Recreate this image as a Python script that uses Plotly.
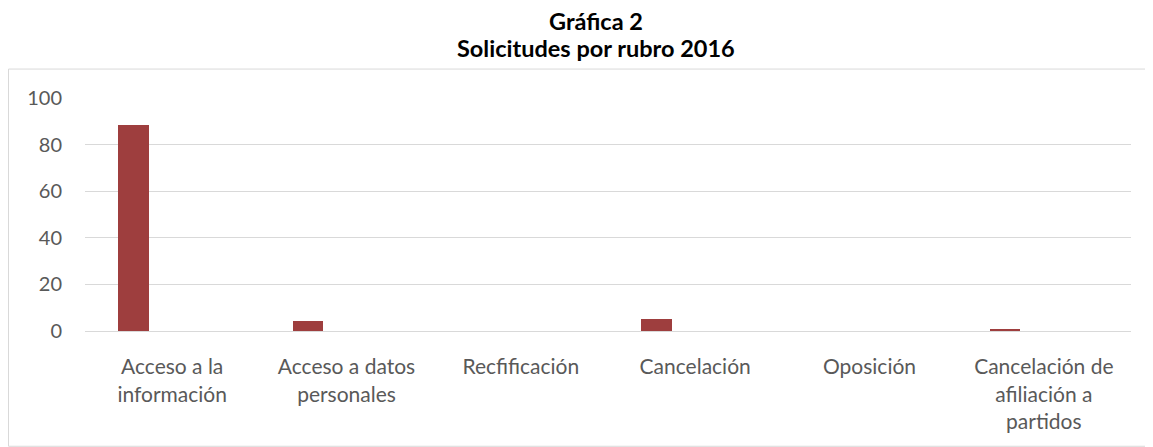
import plotly.graph_objects as go

categories = ["Acceso a la<br>información", "Acceso a datos<br>personales", "Recfificación",
              "Cancelación", "Oposición", "Cancelación de<br>afiliación a<br>partidos"]
values = [88.2, 4.4, 0, 5.0, 0, 0.7]
y_ticks = [0, 20, 40, 60, 80, 100]

# page is offset by 8px body margin; work in page coordinates and subtract
OFF = 8
W, H = 1153 - OFF, 447 - OFF
L, R, T, B = 85 - OFF, 1153 - 1131, 97.5 - OFF, 447 - 331
ph = H - T - B
pw = W - L - R

def px_x(x):
    return (x - OFF - L) / pw

def px_y(y):
    return (H - B - (y - OFF)) / ph

fig = go.Figure()
fig.add_trace(go.Bar(
    x=categories, y=values,
    marker=dict(color="#9E3E3E", line=dict(width=0)),
    width=0.174, offset=-0.309,
))

fig.add_shape(type="rect", xref="paper", yref="paper",
              x0=px_x(8.5), x1=px_x(1149.5), y0=px_y(446.5), y1=px_y(68.5),
              line=dict(color="#d9d9d9", width=1), fillcolor="rgba(0,0,0,0)", layer="below")

for txt, yy in [("Gráfica 2", 20), ("Solicitudes por rubro 2016", 47.5)]:
    fig.add_annotation(text="<b>" + txt + "</b>", xref="paper", yref="paper",
                       x=px_x(596), y=px_y(yy), xanchor="center", yanchor="middle",
                       showarrow=False, font=dict(family="Lato", size=23.5, color="#000000"))

fig.update_layout(
    width=W, height=H,
    margin=dict(l=L, r=R, t=T, b=B, autoexpand=False),
    paper_bgcolor="white", plot_bgcolor="white",
    showlegend=False,
    font=dict(family="Lato", size=20, color="#595959"),
    bargap=0,
)
fig.update_xaxes(showgrid=False, showline=True, linecolor="#d9d9d9", linewidth=1,
                 ticks="", tickfont=dict(size=21, color="#595959"), ticklabelstandoff=17)
fig.update_yaxes(range=[0, 100], tickvals=y_ticks, showgrid=True, gridcolor="#d9d9d9",
                 gridwidth=1, zeroline=False, showline=False, ticks="",
                 tickfont=dict(size=20, color="#595959"), ticklabelstandoff=22)

fig.write_html("out.html")
